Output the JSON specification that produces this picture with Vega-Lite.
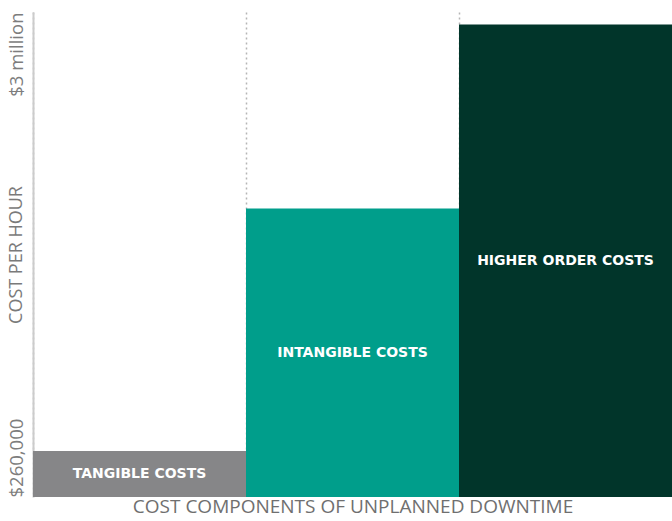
{
  "$schema": "https://vega.github.io/schema/vega-lite/v6.json",
  "width": 639,
  "height": 485,
  "autosize": "none",
  "padding": {"left": 33, "top": 12, "right": 0, "bottom": 24},
  "background": "white",
  "config": {
    "view": {"stroke": null},
    "font": "Open Sans"
  },
  "data": {
    "values": [
      {"component": "TANGIBLE COSTS", "cost": 520000, "color": "tangible"},
      {"component": "INTANGIBLE COSTS", "cost": 1890000, "color": "intangible"},
      {"component": "HIGHER ORDER COSTS", "cost": 2930000, "color": "higher"}
    ]
  },
  "transform": [{"calculate": "(datum.cost + 260000) / 2", "as": "mid"}],
  "encoding": {
    "x": {
      "field": "component",
      "type": "nominal",
      "sort": null,
      "scale": {"paddingInner": 0, "paddingOuter": 0},
      "axis": {
        "title": "COST COMPONENTS OF UNPLANNED DOWNTIME",
        "titleFont": "Open Sans",
        "titleFontSize": 19,
        "titleFontWeight": "normal",
        "titleColor": "#6f6f6f",
        "titlePadding": 0,
        "labels": false,
        "ticks": false,
        "domain": false,
        "grid": true,
        "bandPosition": 0,
        "gridColor": "#b5b5b5",
        "gridDash": [2, 3],
        "gridWidth": 1.5
      }
    }
  },
  "layer": [
    {
      "mark": {"type": "bar"},
      "encoding": {
        "y": {
          "field": "cost",
          "type": "quantitative",
          "scale": {"domain": [260000, 3000000], "zero": false, "nice": false},
          "axis": {
            "title": "COST PER HOUR",
            "titleFont": "Open Sans",
            "titleFontSize": 18,
            "titleFontWeight": "normal",
            "titleColor": "#7a7a7a",
            "titlePadding": -18,
            "values": [260000, 3000000],
            "labelExpr": "datum.value >= 3000000 ? '$3 million' : '$260,000'",
            "labelAngle": 270,
            "labelFontSize": 18.5,
            "labelColor": "#7d7d7d",
            "labelAlign": {"condition": {"test": "datum.value >= 3000000", "value": "right"}, "value": "left"},
            "labelBaseline": "bottom",
            "labelPadding": 7,
            "ticks": false,
            "grid": false,
            "domainColor": "#cccccc",
            "domainWidth": 2
          }
        },
        "y2": {"datum": 260000},
        "color": {
          "field": "color",
          "type": "nominal",
          "scale": {"domain": ["tangible", "intangible", "higher"], "range": ["#868688", "#009e8b", "#01352a"]},
          "legend": null
        }
      }
    },
    {
      "mark": {"type": "text", "color": "white", "fontWeight": "bold", "fontSize": 14, "font": "DejaVu Sans"},
      "encoding": {
        "y": {"field": "mid", "type": "quantitative"},
        "text": {"field": "component"}
      }
    }
  ]
}
